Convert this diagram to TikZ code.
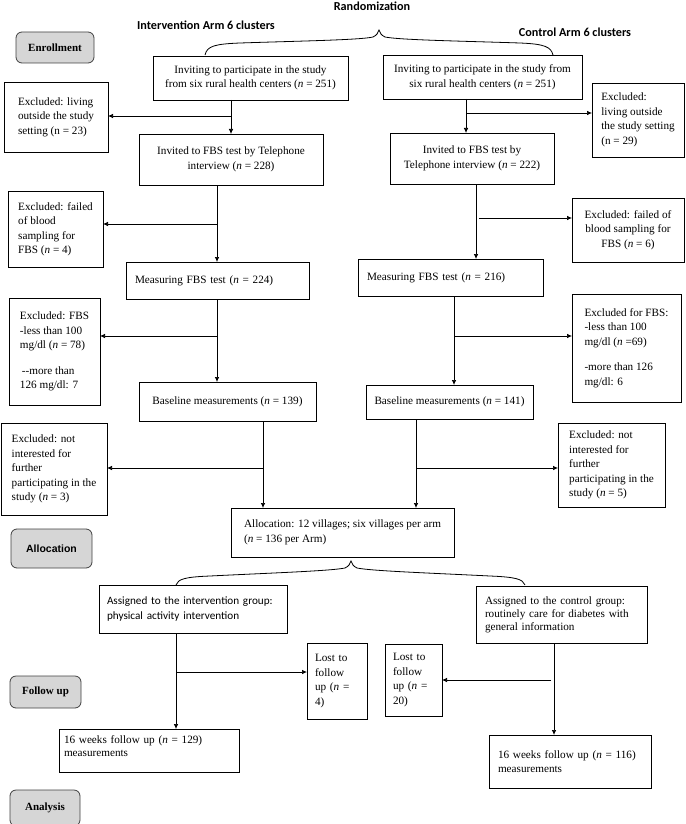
\documentclass[tikz,border=0pt]{standalone}
\usepackage{fontspec}
\setmainfont{Liberation Serif}
\newfontfamily\calib{Carlito}
\newfontfamily\arialf{Liberation Sans}
\usetikzlibrary{arrows.meta}
% \bx[style]{name}{x1}{y1}{x2}{y2}{text}
\newcommand\bx[7][box]{\node[#1, anchor=north west, minimum width={(#5-#3)*1pt}, minimum height={(#6-#4)*1pt}] (#2) at (#3,#4) {#7};}
\begin{document}
\begin{tikzpicture}[x=1pt,y=-1pt,
  box/.style={draw, line width=0.7pt, inner sep=0pt, outer sep=0pt, font=\fontsize{11.2}{14.5}\selectfont, align=center},
  lbox/.style={box, align=left},
  lab/.style={draw=black!75, fill=black!16, rounded corners=6pt, line width=0.8pt, inner sep=0pt, outer sep=0pt, font=\bfseries\fontsize{11}{13}\selectfont},
  head/.style={font=\calib\bfseries\fontsize{12.2}{14}\selectfont, inner sep=0pt},
  arr/.style={line width=0.7pt, -{Latex[length=5pt,width=4.5pt]}},
  brace/.style={line width=0.8pt}]
\useasboundingbox (0,0) rectangle (685,824);

% headings
\node[head] (rand) at (372,6) {Randomization};
\node[head] (harm1) at (206,25) {Intervention Arm 6 clusters};
\node[head] (harm2) at (575,32) {Control Arm 6 clusters};

% stage labels
\bx[lab]{enr}{16}{32}{94}{63}{Enrollment}
\bx[lab, font=\arialf\bfseries\fontsize{10.5}{12}\selectfont]{allocl}{11}{529}{92}{568}{Allocation}
\bx[lab]{fol}{10}{676}{81}{708}{Follow up}
\bx[lab]{ana}{10}{790}{80}{826}{Analysis}

% left arm
\bx{inv1}{153}{56}{348}{100}{Inviting to participate in the study\\from six rural health centers (\textit{n} = 251)}
\bx[lbox]{exl1}{4}{82}{108}{152}{Excluded: living\\outside the study\\setting (n = 23)}
\bx{fbs1}{139}{134}{323}{185}{Invited to FBS test by Telephone\\interview (\textit{n} = 228)}
\bx[lbox]{exf1}{8}{191}{103}{267}{Excluded: failed\\of blood\\sampling for\\FBS (\textit{n} = 4)}
\bx[lbox, text width=165pt]{mea1}{126}{262}{309}{299}{Measuring FBS test (\textit{n} = 224)}
\bx[lbox]{exb1}{9}{298}{100}{405}{Excluded: FBS\\-less than 100\\mg/dl (\textit{n} = 78)\\[11pt]\hspace{2pt}-{}-more than\\126 mg/dl: 7}
\bx{bas1}{139}{382}{316}{421}{Baseline measurements (\textit{n} = 139)}
\bx[lbox]{exn1}{1}{423}{107}{515}{Excluded: not\\interested for\\further\\participating in the\\study (\textit{n} = 3)}

% right arm
\bx{inv2}{383}{55}{582}{99}{Inviting to participate in the study from\\six rural health centers (\textit{n} = 251)}
\bx[lbox]{exl2}{592}{83}{684}{157}{Excluded:\\living outside\\the study setting\\(n = 29)}
\bx{fbs2}{390}{133}{554}{184}{Invited to FBS test by\\Telephone interview (\textit{n} = 222)}
\bx{exf2}{572}{198}{684}{262}{Excluded: failed of\\blood sampling for\\FBS (\textit{n} = 6)}
\bx[lbox, text width=167pt]{mea2}{358}{259}{543}{296}{Measuring FBS test (\textit{n} = 216)}
\bx[lbox]{exb2}{572}{294}{681}{402}{Excluded for FBS:\\-less than 100\\mg/dl (\textit{n} =69)\\[11pt]-more than 126\\mg/dl: 6}
\bx{bas2}{366}{385}{533}{419}{Baseline measurements (\textit{n} = 141)}
\bx[lbox]{exn2}{558}{423}{665}{507}{Excluded: not\\interested for\\further\\participating in the\\study (\textit{n} = 5)}

% allocation
\bx[lbox]{alloc}{231}{508}{454}{557}{Allocation: 12 villages; six villages per arm\\(\textit{n} = 136 per Arm)}

% follow-up
\bx[lbox, text width=172pt, font=\calib\fontsize{11.2}{15}\selectfont]{ass1}{99}{585}{287}{633}{Assigned to the intervention group:\\physical activity intervention}
\bx[lbox, text width=153pt, font=\fontsize{11.2}{13}\selectfont]{ass2}{476}{586}{647}{643}{Assigned to the control group:\\routinely care for diabetes with\\general information}
\bx[lbox, text width=44pt]{lost1}{307}{643}{367}{719}{Lost to\\follow\\up (\textit{n} =\\4)}
\bx[lbox, text width=41pt]{lost2}{385}{644}{442}{716}{Lost to\\follow\\up (\textit{n} =\\20)}
\bx[lbox, text width=170pt, font=\fontsize{11.2}{13}\selectfont]{wk1}{59}{729}{239}{772}{16 weeks follow up (\textit{n} = 129)\\measurements\\[-4pt]\mbox{}}
\bx[lbox, text width=144pt, font=\fontsize{11.2}{14}\selectfont]{wk2}{489}{735}{651}{788}{16 weeks follow up (\textit{n} = 116)\\measurements}

% braces
\draw[brace] (205,55) .. controls (207,46) and (215,44) .. (240,43) .. controls (300,41) and (360,40) .. (373,37) .. controls (377,35) and (378,33) .. (379,30) .. controls (380,33) and (381,35) .. (385,37) .. controls (400,40) and (460,41) .. (520,43) .. controls (545,44) and (551,47) .. (553,55);
\draw[brace] (176,585) .. controls (178,579) and (185,577) .. (210,576) .. controls (270,573) and (330,571) .. (345,568) .. controls (349,566) and (350,564) .. (351,561) .. controls (352,564) and (353,566) .. (357,568) .. controls (372,571) and (430,573) .. (490,576) .. controls (515,577) and (523,579) .. (525,585);

% connectors left
\coordinate (c1) at (231,116);
\draw[arr] (c1 |- inv1.south) -- (c1 |- fbs1.north);
\draw[arr] (c1) -- (c1 -| exl1.east);
\coordinate (c2) at (217,224);
\draw[arr] (c2 |- fbs1.south) -- (c2 |- mea1.north);
\draw[arr] (c2) -- (c2 -| exf1.east);
\coordinate (c3) at (217,336);
\draw[arr] (c3 |- mea1.south) -- (c3 |- bas1.north);
\draw[arr] (c3) -- (c3 -| exb1.east);
\coordinate (c4) at (263,468);
\draw[arr] (c4 |- bas1.south) -- (c4 |- alloc.north);
\draw[arr] (c4) -- (c4 -| exn1.east);

% connectors right
\coordinate (c5) at (466,113);
\draw[arr] (c5 |- inv2.south) -- (c5 |- fbs2.north);
\draw[arr] (c5) -- (c5 -| exl2.west);
\coordinate (c6) at (476,218);
\coordinate (c6b) at (479,218);
\draw[arr] (c6 |- fbs2.south) -- (c6 |- mea2.north);
\draw[arr] (c6b) -- (c6b -| exf2.west);
\coordinate (c7) at (454,336);
\draw[arr] (c7 |- mea2.south) -- (c7 |- bas2.north);
\draw[arr] (c7) -- (c7 -| exb2.west);
\coordinate (c8) at (416,468);
\draw[arr] (c8 |- bas2.south) -- (c8 |- alloc.north);
\draw[arr] (c8) -- (c8 -| exn2.west);

% connectors bottom
\coordinate (c9) at (176,672);
\draw[arr] (c9 |- ass1.south) -- (c9 |- wk1.north);
\draw[arr] (c9) -- (c9 -| lost1.west);
\coordinate (c10) at (554,680);
\coordinate (c10b) at (551,680);
\draw[arr] (c10 |- ass2.south) -- (c10 |- wk2.north);
\draw[arr] (c10b) -- (c10b -| lost2.east);
\end{tikzpicture}
\end{document}
